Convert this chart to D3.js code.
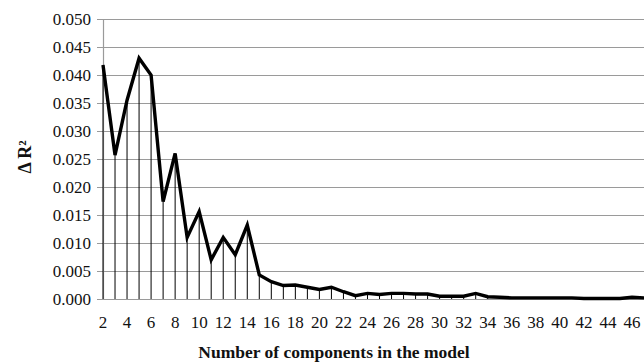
<!DOCTYPE html>
<html>
<head>
<meta charset="utf-8">
<script src="https://cdn.jsdelivr.net/npm/d3@7"></script>
<style>
  html, body { margin: 0; padding: 0; background: #fff; }
  svg { display: block; }
  text { font-family: "Liberation Serif", "Times New Roman", Tinos, "DejaVu Serif", serif; fill: #111; }
</style>
</head>
<body>
<svg id="chart" width="644" height="364"></svg>
<script>
// Number of components in the model
const components = d3.range(2, 48);

// Delta R^2 for each added component
const deltaR2 = [
    0.0418, 0.0257, 0.0355, 0.0430, 0.0400, 0.0174, 0.0260, 0.0110, 0.0156, 0.0070,
    0.0110, 0.0079, 0.0132, 0.0043, 0.0031, 0.0024, 0.0025, 0.0021, 0.0017, 0.0021,
    0.0013, 0.0006, 0.0010, 0.0008, 0.0010, 0.0010, 0.0009, 0.0009, 0.0005, 0.0005,
    0.0005, 0.0010, 0.0004, 0.0003, 0.0002, 0.0002, 0.0002, 0.0002, 0.0002, 0.0002,
    0.0001, 0.0001, 0.0001, 0.0001, 0.0003, 0.0002
];

const yTicks = d3.range(0, 0.0501, 0.005);
const xTickLabels = d3.range(2, 47, 2);

const width = 644;
const height = 364;
const margin = { top: 19, right: 0, bottom: 65, left: 103 };

const svg = d3.select("#chart");

const data = components.map((c, i) => ({ c, v: deltaR2[i] }));

const x = d3.scaleLinear()
    .domain([2, 47])
    .range([margin.left, width - margin.right]);

const y = d3.scaleLinear()
    .domain([0, 0.05])
    .range([height - margin.bottom, margin.top]);

// Horizontal gridlines + left ticks
svg.append("g")
    .selectAll("line")
    .data(yTicks)
    .join("line")
    .attr("x1", margin.left - 6)
    .attr("x2", width)
    .attr("y1", d => Math.round(y(d)) + 0.5)
    .attr("y2", d => Math.round(y(d)) + 0.5)
    .attr("stroke", "#9a9a9a")
    .attr("stroke-width", 1.2);

// Left axis line
svg.append("line")
    .attr("x1", margin.left + 0.5)
    .attr("x2", margin.left + 0.5)
    .attr("y1", y(0.05))
    .attr("y2", y(0))
    .attr("stroke", "#9a9a9a")
    .attr("stroke-width", 1.2);

// Y tick labels
svg.append("g")
    .selectAll("text")
    .data(yTicks)
    .join("text")
    .attr("x", margin.left - 12)
    .attr("y", d => y(d))
    .attr("dy", "0.35em")
    .attr("text-anchor", "end")
    .style("font-size", "17px")
    .text(d => d3.format(".3f")(d));

// Drop lines
svg.append("g")
    .selectAll("line")
    .data(data)
    .join("line")
    .attr("x1", d => x(d.c))
    .attr("x2", d => x(d.c))
    .attr("y1", d => y(d.v))
    .attr("y2", y(0))
    .attr("stroke", "#000")
    .attr("stroke-width", 1);

// Main line
const line = d3.line()
    .x(d => x(d.c))
    .y(d => y(d.v));

svg.append("path")
    .datum(data)
    .attr("d", line)
    .attr("fill", "none")
    .attr("stroke", "#000")
    .attr("stroke-width", 3.4)
    .attr("stroke-linejoin", "miter");

// X tick labels
svg.append("g")
    .selectAll("text")
    .data(xTickLabels)
    .join("text")
    .attr("x", d => x(d))
    .attr("y", 328)
    .attr("text-anchor", "middle")
    .style("font-size", "17px")
    .text(d => d);

// X axis title
svg.append("text")
    .attr("x", 334)
    .attr("y", 358)
    .attr("text-anchor", "middle")
    .style("font-size", "17.5px")
    .style("font-weight", "bold")
    .text("Number of components in the model");

// Y axis title
svg.append("text")
    .attr("transform", "translate(31,157) rotate(-90)")
    .attr("text-anchor", "middle")
    .style("font-size", "18px")
    .style("font-weight", "bold")
    .text("Δ R²");
</script>
</body>
</html>
